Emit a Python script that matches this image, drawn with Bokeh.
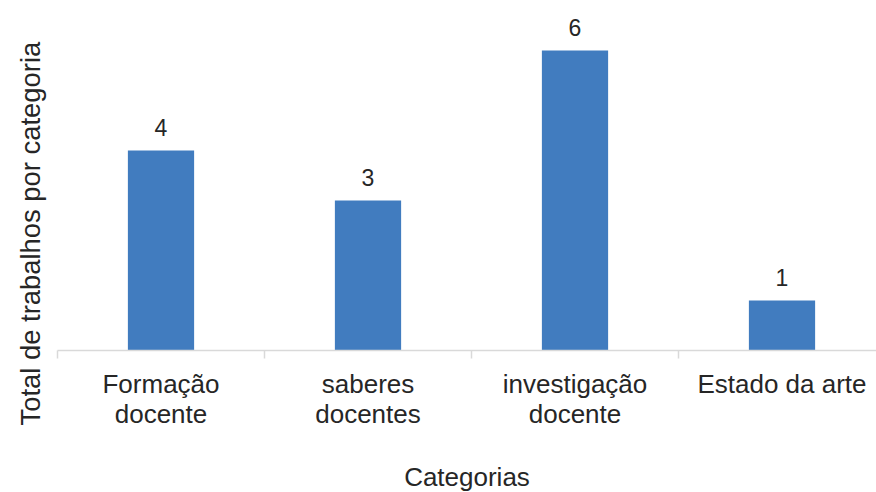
from bokeh.plotting import figure
from bokeh.models import Range1d, FixedTicker, ColumnDataSource, Title
from bokeh.core.properties import value
from bokeh.embed import file_html
from bokeh.resources import INLINE

categories = ["Formação\ndocente", "saberes\ndocentes", "investigação\ndocente", "Estado da arte"]
totals = [4, 3, 6, 1]
x_title = "Categorias"
y_title = "Total de trabalhos por categoria"

FONT = "Liberation Sans"
TXT = "#262626"
BAR = "#417cbf"
AX = "#d9d9d9"

xs = list(range(len(categories)))
src = ColumnDataSource(dict(x=xs, y=totals, lab=[str(v) for v in totals]))

p = figure(frame_width=819, frame_height=350, output_backend="svg", toolbar_location=None,
           x_range=Range1d(-0.5, 3.4565), y_range=Range1d(0, 7),
           min_border_left=57, min_border_right=0, min_border_top=0, min_border_bottom=5)
p.outline_line_color = None
p.grid.visible = False
p.background_fill_color = "white"
p.border_fill_color = "white"
p.yaxis.visible = False

p.vbar(x="x", top="y", width=0.32, source=src, fill_color=BAR, line_color=None)
p.text(x="x", y="y", text="lab", source=src, y_offset=-23, text_align="center",
       text_baseline="middle", text_font=value(FONT), text_font_size="23px", text_color=TXT)

xa = p.xaxis[0]
xa.ticker = FixedTicker(ticks=xs, minor_ticks=[i - 0.5 for i in range(len(categories) + 1)])
xa.major_label_overrides = {i: c for i, c in zip(xs, categories)}
xa.axis_line_color = AX
xa.axis_line_width = 1.5
xa.major_tick_line_color = None
xa.major_tick_out = 0
xa.major_tick_in = 0
xa.minor_tick_line_color = AX
xa.minor_tick_line_width = 1.5
xa.minor_tick_out = 8
xa.minor_tick_in = 0
xa.major_label_standoff = 10
xa.major_label_text_font = FONT
xa.major_label_text_font_size = "26px"
xa.major_label_text_line_height = 1.0
xa.major_label_text_color = TXT
xa.axis_label = x_title
xa.axis_label_text_font = FONT
xa.axis_label_text_font_size = "26px"
xa.axis_label_text_font_style = "normal"
xa.axis_label_text_color = TXT
xa.axis_label_standoff = 30

ytitle = Title(text=y_title, align="left", vertical_align="top", offset=-75, standoff=20,
               text_font=FONT, text_font_size="27.4px", text_font_style="normal", text_color=TXT)
p.add_layout(ytitle, "left")

open("out.html", "w").write(file_html(p, INLINE))
